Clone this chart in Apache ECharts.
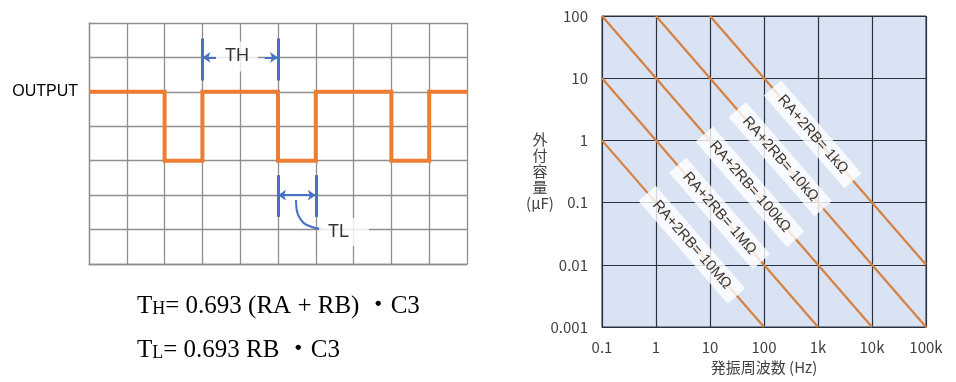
<!DOCTYPE html>
<html>
<head>
<meta charset="utf-8">
<script src="https://cdn.jsdelivr.net/npm/echarts@6/dist/echarts.min.js"></script>
<style>
  html, body { margin: 0; padding: 0; background: #fff; }
  #chart { width: 956px; height: 382px; }
</style>
</head>
<body>
<div id="chart"></div>
<script>
// ---------- Left: timing diagram ----------
const waveX = [0, 2, 2, 3, 3, 5, 5, 6, 6, 8, 8, 9, 9, 10];
const waveY = [5, 5, 3, 3, 5, 5, 3, 3, 5, 5, 3, 3, 5, 5];
const outputLevel = 5;
const outputLabel = 'OUTPUT';
// TL leader curve
const curveX = [5.476, 5.495, 5.582, 5.759, 6.156];
const curveY = [1.859, 1.568, 1.326, 1.133, 1.017];
// annotation labels
const annoNames = ['TH', 'TL'];
const annoPos = [[3.915, 6.03], [6.746, 0.93]];
// marker segments  [x1, y1, x2, y2]
const barSegs = [[3, 6.55, 3, 5.33], [5, 6.55, 5, 5.33], [5, 2.58, 5, 1.37], [6, 2.58, 6, 1.37]];
const arrowSegs = [[3.36, 6, 3, 6], [4.65, 6, 5, 6]];
const dblArrowSegs = [[5, 2, 6, 2]];

// ---------- Right: log-log chart ----------
const xTickLabels = ['0.1', '1', '10', '100', '1k', '10k', '100k'];
const yTickLabels = ['0.001', '0.01', '0.1', '1', '10', '100'];
const lineNames = ['1kΩ', '10kΩ', '100kΩ', '1MΩ', '10MΩ'];
const lineFreq = [[10, 100000], [1, 100000], [0.1, 10000], [0.1, 1000], [0.1, 100]];
const lineCap = [[100, 0.01], [100, 0.001], [100, 0.001], [10, 0.001], [1, 0.001]];
const labelPos = [[800, 1.25], [200, 0.5], [55, 0.18], [15, 0.067], [4.6, 0.021]];

const sans = "'Liberation Sans', Arial, sans-serif";
const jp = "'Noto Sans CJK JP', 'Liberation Sans', sans-serif";
const serif = "'Liberation Serif', 'Noto Sans CJK JP', serif";

const chart = echarts.init(document.getElementById('chart'), null, { renderer: 'canvas' });

const blue = '#4472C4';
const markData = [];
barSegs.forEach(s => markData.push([
  { coord: [s[0], s[1]], symbol: 'none', lineStyle: { width: 3 } },
  { coord: [s[2], s[3]], symbol: 'none' }
]));
arrowSegs.forEach(s => markData.push([
  { coord: [s[0], s[1]], symbol: 'none', lineStyle: { width: 2 } },
  { coord: [s[2], s[3]], symbol: 'arrow' }
]));
dblArrowSegs.forEach(s => markData.push([
  { coord: [s[0], s[1]], symbol: 'arrow', lineStyle: { width: 2 } },
  { coord: [s[2], s[3]], symbol: 'arrow' }
]));

const lineSeries = lineNames.map((n, i) => ({
  name: n,
  type: 'line',
  xAxisIndex: 1, yAxisIndex: 1,
  data: [[lineFreq[i][0], lineCap[i][0]], [lineFreq[i][1], lineCap[i][1]]],
  showSymbol: false,
  symbol: 'none',
  silent: true,
  lineStyle: { color: '#D6813F', width: 2.2 },
  z: 3
}));

const clear = 'rgba(0,0,0,0)';
const option = {
  backgroundColor: '#ffffff',
  animation: false,
  grid: [
    { left: 89, top: 23, width: 378, height: 241, show: false },
    { left: 602, top: 16, width: 324, height: 311, show: true, backgroundColor: '#DAE3F3',
      borderColor: '#2a3240', borderWidth: 1 }
  ],
  xAxis: [
    { type: 'value', gridIndex: 0, min: 0, max: 10, interval: 1,
      axisLabel: { show: false }, axisTick: { show: false },
      axisLine: { show: true, lineStyle: { color: '#8f8f8f', width: 1.3 } },
      splitLine: { show: true, lineStyle: { color: '#8f8f8f', width: 1.3 } } },
    { type: 'log', gridIndex: 1, logBase: 10, min: 0.1, max: 100000, splitNumber: 6,
      axisTick: { show: false },
      axisLine: { show: true, lineStyle: { color: '#2a3240', width: 1 } },
      splitLine: { show: true, lineStyle: { color: '#2a3240', width: 1.2 } },
      minorTick: { show: false }, minorSplitLine: { show: false },
      axisLabel: { margin: 13, fontSize: 15, color: '#404040', fontFamily: jp,
        formatter: v => xTickLabels[Math.round(Math.log10(v)) + 1] },
      name: '発振周波数 (Hz)', nameLocation: 'middle', nameGap: 33, nameMoveOverlap: false,
      nameTextStyle: { fontSize: 15, color: '#404040', fontFamily: jp } }
  ],
  yAxis: [
    { type: 'value', gridIndex: 0, min: 0, max: 7, interval: 1,
      axisTick: { show: false },
      axisLine: { show: true, lineStyle: { color: '#8f8f8f', width: 1.3 } },
      splitLine: { show: true, lineStyle: { color: '#8f8f8f', width: 1.3 } },
      axisLabel: { show: true, margin: 11, fontSize: 16, color: '#000', fontFamily: sans,
        formatter: v => (v === outputLevel ? outputLabel : '') } },
    { type: 'log', gridIndex: 1, logBase: 10, min: 0.001, max: 100, splitNumber: 5,
      axisTick: { show: false },
      axisLine: { show: true, lineStyle: { color: '#2a3240', width: 1 } },
      splitLine: { show: true, lineStyle: { color: '#2a3240', width: 1.2 } },
      minorTick: { show: false }, minorSplitLine: { show: false },
      axisLabel: { margin: 14, fontSize: 15, color: '#404040', fontFamily: jp,
        formatter: v => yTickLabels[Math.round(Math.log10(v)) + 3] },
      name: '外\n付\n容\n量\n(μF)', nameLocation: 'middle', nameGap: 62, nameRotate: 0,
      nameMoveOverlap: false,
      nameTextStyle: { fontSize: 15, lineHeight: 16, color: '#404040', fontFamily: jp,
        align: 'center', verticalAlign: 'middle', padding: [0, 0, 17, 0] } }
  ],
  series: [
    { name: 'wave', type: 'line', xAxisIndex: 0, yAxisIndex: 0,
      data: waveX.map((x, i) => [x, waveY[i]]),
      showSymbol: false, symbol: 'none', silent: true,
      lineStyle: { color: '#ED7D31', width: 4, join: 'miter' }, z: 4 },
    { name: 'anno', type: 'line', xAxisIndex: 0, yAxisIndex: 0,
      data: curveX.map((x, i) => [x, curveY[i]]),
      smooth: 0.5, showSymbol: false, symbol: 'none', silent: true,
      lineStyle: { color: blue, width: 2 }, z: 5,
      markLine: {
        silent: true, animation: false,
        symbolSize: 8,
        label: { show: false },
        lineStyle: { color: blue, type: 'solid', width: 2 },
        emphasis: { disabled: true },
        data: markData
      } },
    { name: 'annoLabels', type: 'scatter', xAxisIndex: 0, yAxisIndex: 0,
      data: annoNames.map((n, i) => ({ name: n, value: annoPos[i],
        label: { padding: i === 0 ? [10, 9, 2, 9] : [5, 20, 5, 9] } })),
      symbolSize: 1, itemStyle: { color: clear }, silent: true, z: 6,
      label: { show: true, position: 'inside', formatter: p => p.name,
        fontSize: 18, color: '#000', fontFamily: sans, backgroundColor: '#fff',
        textBorderWidth: 0, textShadowBlur: 0 } },
    ...lineSeries,
    { name: 'lineLabels', type: 'scatter', xAxisIndex: 1, yAxisIndex: 1,
      data: lineNames.map((n, i) => ({ name: n, value: labelPos[i] })),
      symbolSize: 1, itemStyle: { color: clear }, silent: true, z: 10,
      label: { show: true, position: 'inside', rotate: -49,
        formatter: p => 'RA+2RB= ' + p.name,
        fontSize: 15, color: '#000', fontFamily: sans,
        textBorderWidth: 0, textShadowBlur: 0,
        backgroundColor: '#fff', padding: [4, 12, 4, 12] } }
  ],
  graphic: [
    { type: 'text', x: 137, y: 304, silent: true,
      style: { text: '{m|T}{s|H}{m|= 0.693 (RA + RB) ・C3}', align: 'left', verticalAlign: 'middle',
        rich: { m: { fontSize: 25, lineHeight: 29, fontFamily: serif, fill: '#000', verticalAlign: 'bottom' },
                s: { fontSize: 18, lineHeight: 23, fontFamily: serif, fill: '#000', verticalAlign: 'bottom' } } } },
    { type: 'text', x: 137, y: 348, silent: true,
      style: { text: '{m|T}{s|L}{m|= 0.693 RB ・C3}', align: 'left', verticalAlign: 'middle',
        rich: { m: { fontSize: 25, lineHeight: 29, fontFamily: serif, fill: '#000', verticalAlign: 'bottom' },
                s: { fontSize: 18, lineHeight: 23, fontFamily: serif, fill: '#000', verticalAlign: 'bottom' } } } }
  ]
};
chart.setOption(option);
</script>
</body>
</html>
